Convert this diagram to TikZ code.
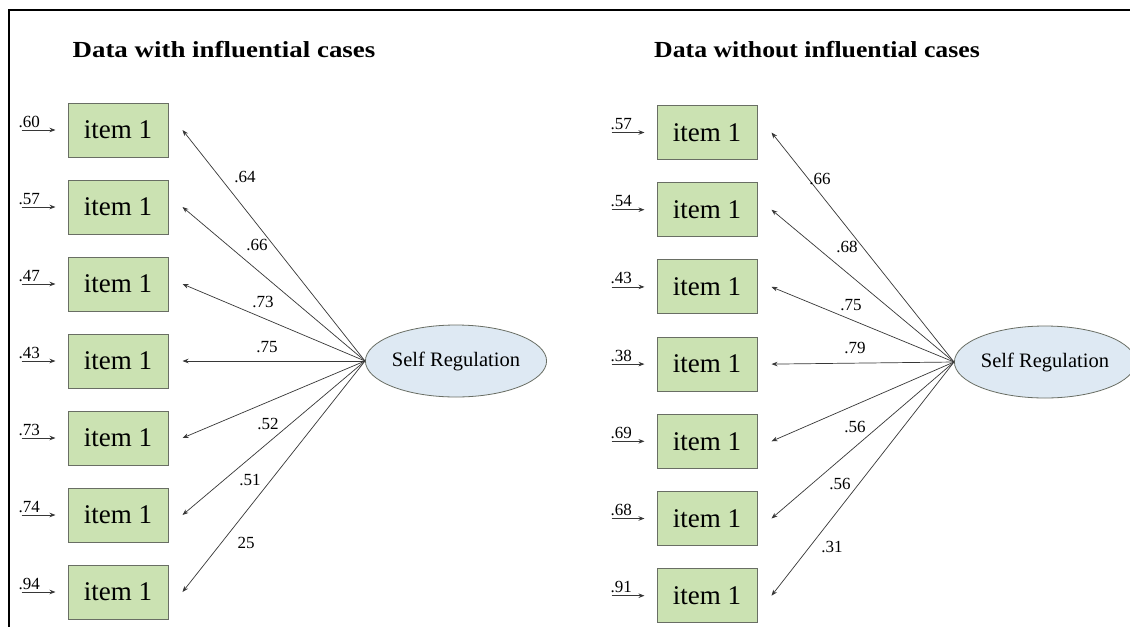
\documentclass[tikz,border=0pt]{standalone}
\usepackage{fontspec}
\usepackage{graphicx}
\setmainfont{Liberation Serif}
\usetikzlibrary{shapes.geometric,arrows.meta}
\definecolor{itemgreen}{RGB}{203,226,178}
\definecolor{itemborder}{RGB}{105,110,100}
\definecolor{latblue}{RGB}{222,233,243}
\definecolor{linegray}{RGB}{55,55,55}
\tikzset{
  itembox/.style={draw=itemborder, line width=1pt, fill=itemgreen, minimum width=100pt, minimum height=54pt, inner sep=0pt, font=\fontsize{27}{27}\selectfont},
  latent/.style={ellipse, draw=itemborder, line width=0.8pt, fill=latblue, minimum width=158pt, minimum height=72pt, inner sep=0pt, font=\fontsize{20.5}{21}\selectfont},
  loadarrow/.style={draw=linegray, line width=0.7pt, -{Stealth[length=6pt,width=4.5pt]}},
  errarrow/.style={draw=linegray, line width=0.8pt, -{Stealth[length=6pt,width=4.5pt]}},
  lab/.style={inner sep=0pt, font=\fontsize{17}{17}\selectfont},
  errlab/.style={inner sep=0pt, anchor=base west, font=\fontsize{17}{17}\selectfont},
  titletext/.style={inner sep=0pt, font=\fontsize{23}{23}\selectfont\bfseries},
  frameline/.style={line width=2pt, black}
}
\begin{document}
\begin{tikzpicture}[x=1pt,y=-1pt]
\useasboundingbox (0,0) rectangle (1130,627);
\fill[white] (0,0) rectangle (1130,627);
% frame
\coordinate (fTR) at (1130,10);
\coordinate (fTL) at (9,10);
\coordinate (fBL) at (9,627);
\draw[frameline] (fTR) -- (fTL) -- (fBL);
% titles
\node[titletext] (tL) at (224,50) {\scalebox{1.17}[1]{Data with influential cases}};
\node[titletext] (tR) at (817,50) {\scalebox{1.12}[1]{Data without influential cases}};
% left panel
\node[latent] (L) at (456,361) {Self Regulation};
\foreach \i/\e/\ld/\lx/\ly in {1/.60/.64/245/177, 2/.57/.66/257/245, 3/.47/.73/263/302, 4/.43/.75/267/347, 5/.73/.52/268/424, 6/.74/.51/250/480, 7/.94/25/246/543} {
  \node[itembox] (lb\i) at (118,{130+77*(\i-1)}) {item 1};
  \coordinate (lt\i) at ([xshift=14pt]lb\i.east);
  \coordinate (le\i) at ([xshift=-46pt]lb\i.west);
  \coordinate (la\i) at ([xshift=-12pt]lb\i.west);
  \draw[loadarrow] (L.west) -- (lt\i);
  \draw[errarrow] (le\i) -- (la\i);
  \node[errlab] (lel\i) at ([xshift=-3pt,yshift=3pt]le\i) {\e};
  \node[lab] (lll\i) at (\lx,\ly) {\ld};
}
% right panel
\node[latent] (R) at (1045,362) {Self Regulation};
\foreach \i/\e/\ld/\lx/\ly in {1/.57/.66/820/179, 2/.54/.68/847/247, 3/.43/.75/851/305, 4/.38/.79/855/348, 5/.69/.56/855/427, 6/.68/.56/840/484, 7/.91/.31/832/547} {
  \node[itembox] (rb\i) at (707,{132.5+77.2*(\i-1)}) {item 1};
  \coordinate (rt\i) at ([xshift=14pt]rb\i.east);
  \coordinate (re\i) at ([xshift=-45pt]rb\i.west);
  \coordinate (ra\i) at ([xshift=-12pt]rb\i.west);
  \draw[loadarrow] (R.west) -- (rt\i);
  \draw[errarrow] (re\i) -- (ra\i);
  \node[errlab] (rel\i) at ([xshift=-1pt,yshift=3pt]re\i) {\e};
  \node[lab] (rll\i) at (\lx,\ly) {\ld};
}
\end{tikzpicture}
\end{document}
